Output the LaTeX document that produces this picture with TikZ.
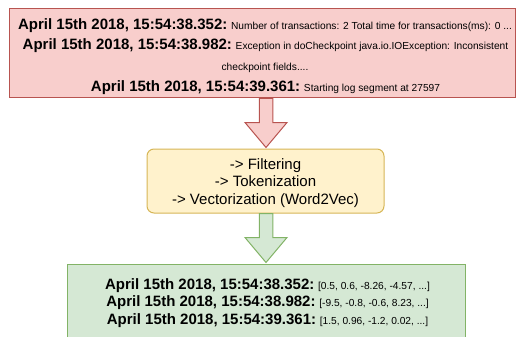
\documentclass[tikz,border=0pt]{standalone}
\usepackage{fontspec}
\setmainfont{Liberation Sans}
\usetikzlibrary{calc}

\definecolor{redfill}{HTML}{F8CECC}
\definecolor{redline}{HTML}{B85450}
\definecolor{yelfill}{HTML}{FFF2CC}
\definecolor{yelline}{HTML}{D6B656}
\definecolor{grnfill}{HTML}{D5E8D4}
\definecolor{grnline}{HTML}{82B366}

\newcommand{\stamp}[1]{{\fontsize{15}{18}\selectfont\bfseries #1}}
\newcommand{\msg}[1]{{\fontsize{10.2}{12}\selectfont #1}}

% block arrow: #1 style, #2 start point, #3 tip point
\newcommand{\fatarrow}[3]{%
  \path[#1] let \p1=(#2), \p2=(#3) in
    (\x1-6.75pt,\y1) -- (\x1-6.75pt,\y2+25pt) -- (\x1-21pt,\y2+25pt) --
    (\x2,\y2) -- (\x1+21pt,\y2+25pt) -- (\x1+6.75pt,\y2+25pt) --
    (\x1+6.75pt,\y1) -- cycle;}

\begin{document}
\begin{tikzpicture}[x=1pt,y=-1pt,
  line width=1pt,
  box/.style={draw, inner sep=0pt, minimum width=#1},
  logline/.style={anchor=base, inner sep=0pt},
  midline/.style={anchor=base, inner sep=0pt, font=\fontsize{15}{18}\selectfont},
  redarrow/.style={fill=redfill, draw=redline},
  grnarrow/.style={fill=grnfill, draw=grnline}]

\useasboundingbox (0,0) rectangle (517,337);
\clip (0,0) rectangle (517,337);

% raw log lines
\node[box=506.5pt, minimum height=89.5pt, fill=redfill, draw=redline]
  (raw) at (262.25,53.25) {};
\node[logline] (r1) at (265,30) {\stamp{April 15th 2018, 15:54:38.352:} \msg{Number of transactions: 2 Total time for transactions(ms): 0 ...}};
\node[logline] (r2) at (265.5,50) {\stamp{April 15th 2018, 15:54:38.982:} \msg{Exception in doCheckpoint java.io.IOException: Inconsistent}};
\node[logline] (r3) at (265,70.5) {\msg{checkpoint fields....}};
\node[logline] (r4) at (265.5,92) {\stamp{April 15th 2018, 15:54:39.361:} \msg{Starting log segment at 27597}};

% preprocessing steps
\node[box=237pt, minimum height=64pt, fill=yelfill, draw=yelline, rounded corners=7pt]
  (proc) at (265.5,181) {};
\node[midline] (p1) at (265.5,169) {-> Filtering};
\node[midline] (p2) at (265.5,186.7) {-> Tokenization};
\node[midline] (p3) at (265.5,204.4) {-> Vectorization (Word2Vec)};

% vectorised output
\node[box=398pt, minimum height=90pt, fill=grnfill, draw=grnline]
  (vec) at (266,309) {};
\node[logline] (v1) at (267.5,289) {\stamp{April 15th 2018, 15:54:38.352:} \msg{[0.5, 0.6, -8.26, -4.57, ...]}};
\node[logline] (v2) at (267.5,306.5) {\stamp{April 15th 2018, 15:54:38.982:} \msg{[-9.5, -0.8, -0.6, 8.23, ...]}};
\node[logline] (v3) at (267.5,324) {\stamp{April 15th 2018, 15:54:39.361:} \msg{[1.5, 0.96, -1.2, 0.02, ...]}};

% arrows between the stages
\coordinate (a1s) at (raw.south -| 266,0);
\coordinate (a1t) at ($(proc.north -| 266,0)+(0,-1)$);
\fatarrow{redarrow}{a1s}{a1t}
\coordinate (a2s) at (proc.south -| 266,0);
\coordinate (a2t) at ($(vec.north -| 266,0)+(0,-1)$);
\fatarrow{grnarrow}{a2s}{a2t}
\end{tikzpicture}
\end{document}
